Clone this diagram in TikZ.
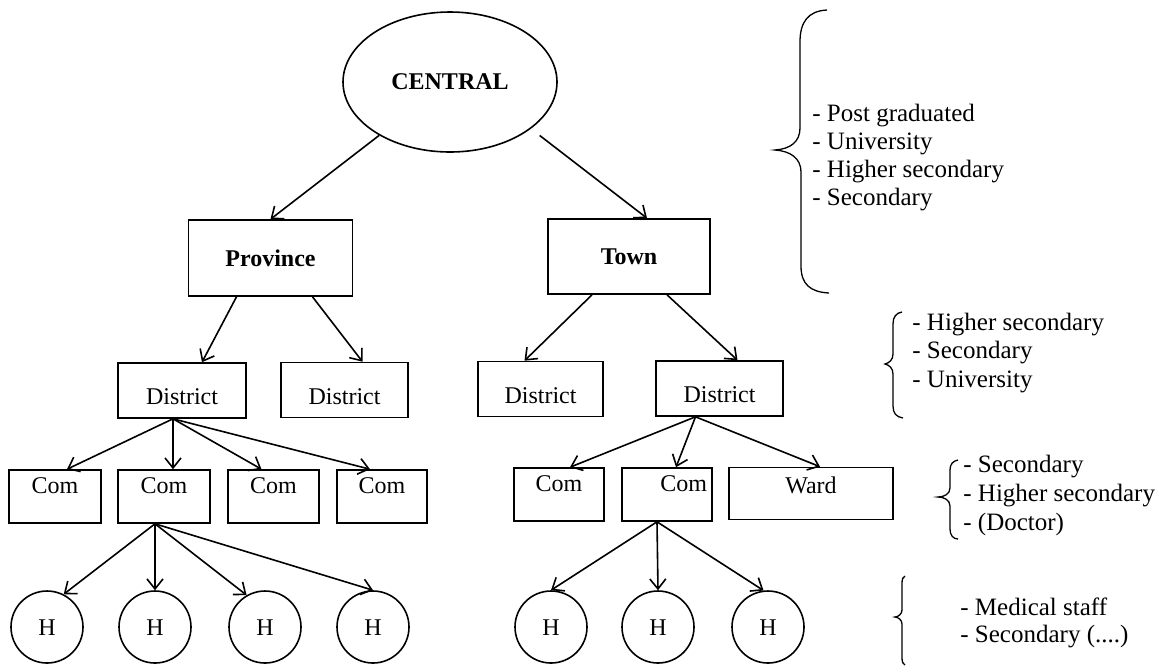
\documentclass[tikz,12pt,border=0pt]{standalone}
\usepackage{fontspec}
\setmainfont{Liberation Serif}
\usetikzlibrary{shapes.geometric,arrows.meta}

\begin{document}
\begin{tikzpicture}[x=0.5pt,y=-0.5pt,
  link/.style={line width=0.8pt,-{Straight Barb[length=5pt,width=8pt]}},
  box/.style={draw,line width=0.8pt,rectangle,inner sep=0pt},
  toplevel/.style={box,font=\bfseries,minimum width=82pt,minimum height=38pt},
  dist/.style={box,minimum height=27.5pt,text height=14pt,text depth=0pt},
  com/.style={box,minimum width=45.5pt,minimum height=26.5pt,text height=8pt,text depth=11.5pt},
  hosp/.style={draw,circle,line width=0.8pt,minimum size=36pt,inner sep=0pt,
               text height=9pt,text depth=1pt},
  brace/.style={line width=0.65pt},
  list/.style={anchor=west,align=left,inner sep=0pt}]

\useasboundingbox (0,0) rectangle (1166,666);

% hierarchy
\node[ellipse,draw,line width=0.8pt,minimum width=107pt,minimum height=70pt,
      inner sep=0pt,font=\bfseries] (central) at (450,82) {CENTRAL};

\node[toplevel] (prov) at (270.5,258) {Province};
\node[toplevel,minimum width=81pt,minimum height=37.5pt] (town) at (629,256.5) {Town};

\node[dist,minimum width=64pt]   (d1) at (182,390.5) {District};
\node[dist,minimum width=63.5pt] (d2) at (344.5,390) {District};
\node[dist,minimum width=62.5pt] (d3) at (540.5,389) {District};
\node[dist,minimum width=63.5pt] (d4) at (719.5,388.5) {District};

\node[com,minimum width=46pt] (c1) at (55,496.5) {Com};
\node[com,minimum width=46pt] (c2) at (164,496.5) {Com};
\node[com] (c3) at (273.5,496.5) {Com};
\node[com,minimum width=45pt] (c4) at (382,496.5) {Com};
\node[com,minimum width=45pt] (c5) at (559,494.5) {Com};
\node[com,minimum width=45pt,text width=40pt,align=right] (c6) at (667,494.5) {Com};
\node[box,minimum width=82pt,minimum height=26pt,text height=8pt,text depth=8pt]
      (ward) at (811,493.5) {Ward};

\node[hosp] (h1) at (47,627)  {H};
\node[hosp] (h2) at (155,627) {H};
\node[hosp] (h3) at (265,627) {H};
\node[hosp] (h4) at (373,627) {H};
\node[hosp] (h5) at (551,627) {H};
\node[hosp] (h6) at (658,627) {H};
\node[hosp] (h7) at (768,627) {H};

% connectors
\draw[link] (central.217) -- (prov.north);
\draw[link,shorten <=5.5pt] (central.-30) -- ([xshift=9pt]town.north);

\draw[link] ([xshift=-17pt]prov.south) -- ([xshift=10pt]d1.north);
\draw[link] ([xshift=21pt]prov.south) -- ([xshift=9pt]d2.north);
\draw[link] ([xshift=-18.5pt]town.south) -- ([xshift=-8pt]d3.north);
\draw[link] ([xshift=19pt]town.south) -- ([xshift=9pt]d4.north);

\coordinate (d1o) at ([xshift=-4.5pt]d1.south);
\draw[link] (d1o) -- ([xshift=6pt]c1.north);
\draw[link] (d1o) -- ([xshift=4.5pt]c2.north);
\draw[link] (d1o) -- ([xshift=-6pt]c3.north);
\draw[link] (d1o) -- ([xshift=-6pt]c4.north);

\coordinate (c2o) at ([xshift=-4.5pt]c2.south);
\draw[link] (c2o) -- (h1.63);
\draw[link] (c2o) -- (h2.north);
\draw[link] (c2o) -- (h3.120);
\draw[link] (c2o) -- (h4.north);

\coordinate (d4o) at ([xshift=-12pt]d4.south);
\draw[link] (d4o) -- ([xshift=5.5pt]c5.north);
\draw[link] (d4o) -- ([xshift=4.5pt]c6.north);
\draw[link] (d4o) -- ([xshift=4.5pt]ward.north);

\coordinate (c6o) at ([xshift=-5pt]c6.south);
\draw[link] (c6o) -- (h5.north);
\draw[link] (c6o) -- (h6.north);
\draw[link] (c6o) -- (h7.97);

% braces with the qualification lists
\draw[brace] (827,10) .. controls (808,11) and (800,22) .. (800,42) -- (800,128)
  .. controls (800,142) and (790,149) .. (775,150)
  .. controls (790,151) and (801,158) .. (801,172) -- (801,266)
  .. controls (801,284) and (810,292) .. (829,293);
\node[list,font=\fontsize{12.5}{14}\selectfont] (edu1) at (812,157.4)
  {- Post graduated\\- University\\- Higher secondary\\- Secondary};

\draw[brace] (902,312) .. controls (896,313) and (893,317) .. (893,324) -- (893,354)
  .. controls (893,360) and (889,363) .. (885,364)
  .. controls (889,365) and (893,368) .. (893,374) -- (893,406)
  .. controls (893,413) and (896,417) .. (903,418);
\node[list,font=\fontsize{12.5}{14.25}\selectfont] (edu2) at (912,353)
  {- Higher secondary\\- Secondary\\- University};

\draw[brace] (958,460) .. controls (953,461) and (950,464) .. (950,470) -- (950,488)
  .. controls (950,494) and (944,497) .. (938,497)
  .. controls (944,497) and (950,500) .. (950,506) -- (950,529)
  .. controls (950,535) and (953,539) .. (958,539);
\node[list,font=\fontsize{12.5}{14.5}\selectfont] (edu3) at (963,495.4)
  {- Secondary\\- Higher secondary\\- (Doctor)};

\draw[brace] (905,576) .. controls (903,577) and (902,579) .. (902,583) -- (902,610)
  .. controls (902,614) and (898,617) .. (895,617)
  .. controls (898,617) and (902,620) .. (902,624) -- (902,658)
  .. controls (902,662) and (903,664) .. (905,665);
\node[list,font=\fontsize{12.5}{13.5}\selectfont] (edu4) at (960,623)
  {- Medical staff\\- Secondary (....)};

\end{tikzpicture}
\end{document}
